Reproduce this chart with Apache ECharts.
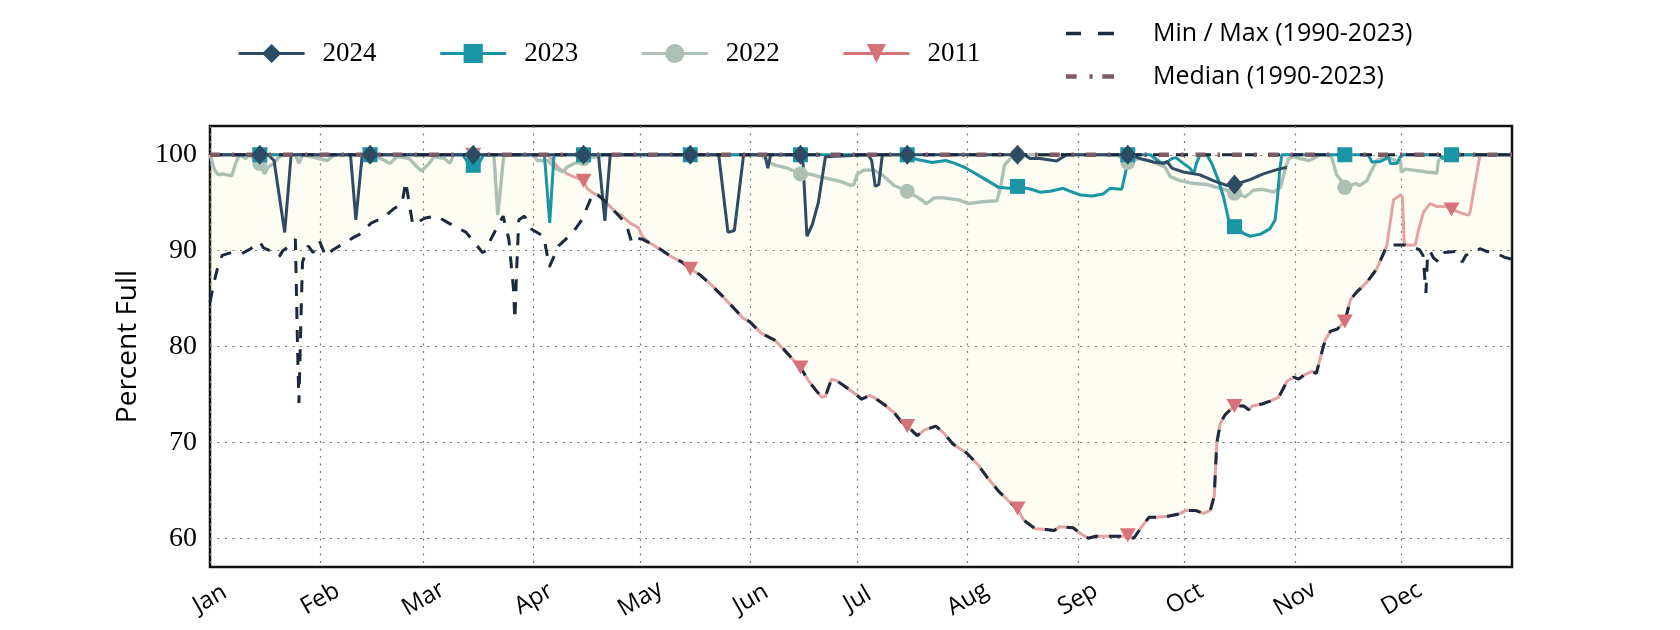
<!DOCTYPE html>
<html>
<head>
<meta charset="utf-8">
<script src="https://cdn.jsdelivr.net/npm/echarts@6/dist/echarts.min.js"></script>
<style>html,body{margin:0;padding:0;background:#fff}#c{width:1680px;height:630px}</style>
</head>
<body>
<div id="c"></div>
<script>
// ---- axis definitions ----
const monthLabels = ['Jan','Feb','Mar','Apr','May','Jun','Jul','Aug','Sep','Oct','Nov','Dec'];
const monthStarts = [0,31,60,91,121,152,182,213,244,274,305,335];
const yTicks = [60,70,80,90,100];

// ---- series values: [day of year, percent full] ----
const y2024 = [[0,100],[14,100],[16.3,100],[18,99.4],[21,91.9],[22.8,100],[39.5,100],[41,93.2],[42.8,100],[45,100],[74,100],[105,100],[109.2,100],[111,93.1],[112.5,100],[135,100],[143,100],[145.6,91.9],[147.4,92.1],[150,100],[156,100],[156.8,98.6],[157.6,100],[166,100],[166.6,99.8],[167.8,91.5],[169.3,92.7],[171,95],[173,99.8],[185,100],[186,99.4],[187,96.7],[188,96.9],[189,100],[196,100],[227,100],[229,100],[230.5,99.6],[233.3,99.6],[238,99.35],[240.8,100],[258.5,100],[261.5,99.6],[265.2,99.25],[268,99.1],[269,99.3],[270.4,98.6],[273.6,98.2],[278.3,97.9],[282,97.3],[285.8,96.8],[288,96.9],[292.4,97.4],[296.1,98],[299.9,98.45],[302.7,98.7]];

const y2023 = [[0,100],[71,100],[72.5,99.2],[74,98.9],[75.5,99.1],[77,100],[94,100],[95.5,92.9],[96.7,100],[196,100],[198.8,99.5],[203,99.2],[206.8,99.4],[209.4,99.1],[212.6,98.6],[215.8,97.9],[219,97.2],[221.7,96.6],[224.4,96.5],[227,96.7],[230.8,96.4],[233.3,96.1],[236.2,96.2],[239.8,96.5],[241.7,96.2],[244.7,95.8],[248,95.7],[251,95.9],[253,96.5],[256.3,96.4],[257.7,98.7],[258.5,100],[264.3,100],[267,99.25],[268.5,99.1],[270.4,99.6],[271.5,99.7],[273.6,99.1],[275.5,98.6],[276.5,98],[277.3,99.1],[278.3,100],[280.2,100],[281.6,99.1],[283.5,97.3],[284.9,95.6],[286.3,93.3],[288.6,92.5],[290.5,91.8],[292.4,91.5],[295.2,91.7],[298,92.3],[299.4,93.2],[300.1,95.6],[300.7,98.4],[301.3,100],[325.6,100],[326.6,99.25],[329,99.3],[330.6,99.6],[331,100],[331.8,99.1],[333.7,99.1],[334.6,99.8],[335.5,100],[345.5,100],[346.7,99.6],[348,100],[366,100]];

const y2022 = [[0,100],[1.3,98.4],[2.4,97.9],[3.4,98],[6.1,97.8],[7.2,99.1],[8.3,100],[10,99.6],[11,100],[13,99.4],[14.2,99.1],[15.3,98],[16.3,98.7],[18,99.1],[19.5,99.8],[21,100],[24,100],[25,99.1],[26,100],[33,99.4],[35,100],[45,100],[48,99.6],[50.6,99.1],[52.5,99.8],[56,99.6],[58,98.8],[59.5,98.3],[61.6,99.1],[63,99.8],[66,99.6],[67.4,99.1],[68.5,100],[79.8,100],[80.9,93.7],[82.6,100],[91,100],[92,99.4],[95,99.4],[97,98.6],[99.2,98.2],[100.3,98.7],[102.3,99.1],[104,99.2],[106,99.6],[109,99.8],[111,100],[155,100],[157,99.2],[159,98.9],[162.4,98.6],[166,98],[168.3,98],[171.5,97.7],[174,97.5],[177.4,97.2],[180,96.8],[181,96.9],[182,98],[183.8,98.4],[186.5,98.4],[189,97.9],[192.3,96.8],[196,96.2],[198.8,95.6],[201.4,94.9],[203.6,95.5],[206.2,95.5],[210.5,95.3],[213.2,94.9],[217,95.1],[221.2,95.2],[222.3,96.7],[223.3,98.9],[225.5,99.8],[227,100],[255,100],[258,99.2],[261,99.6],[264,99.4],[268.5,98.7],[270,97.7],[272.7,97.3],[276.5,97],[280.2,96.9],[283,96.6],[285.8,96.3],[288.8,96],[291,95.6],[293.3,96.3],[296,96.4],[299,96.1],[300.9,96.6],[302.2,98.4],[303.2,99.6],[304.6,99.8],[306.4,99.6],[309,99.4],[312,100],[315,100],[315.8,99.1],[316.7,97.9],[319.6,96.6],[321.9,97],[323.3,96.8],[325.2,97.3],[326.6,98.4],[328,99.4],[330.8,99.8],[333.2,99.4],[334.6,99.4],[334.9,98.2],[336,98.5],[338.3,98.4],[342,98.2],[344.9,98.1],[345.3,99.4],[346.7,99.8],[348,100],[366,100]];

const y2011 = [[0,100],[95,100],[98,98.6],[99.7,98.2],[101,97.9],[105,97.3],[106,96.5],[107.7,96],[109,95.8],[110,95.5],[112,94.8],[114,94],[115.6,93.7],[118,92.9],[120.4,92.4],[121.5,91.5],[123.6,90.8],[126.8,90.1],[129.5,89.4],[132.7,88.8],[135,88.1],[138,87.4],[141,86.4],[144.2,85.2],[148,83.7],[150,82.9],[151.7,82.6],[154.9,81.4],[158.6,80.7],[161.3,79.7],[163.5,78.8],[166,77.8],[168.3,76.4],[170.4,75.4],[172,74.7],[173,74.8],[174.7,76.6],[176.3,76.4],[179,75.7],[181.6,75],[183.2,74.5],[185.4,74.9],[187,74.6],[189.7,73.9],[192.3,73.1],[194.5,72.1],[196,71.7],[198.8,70.7],[200.9,71.3],[204,71.7],[206.2,71],[208.9,69.8],[212.7,68.9],[215.8,67.7],[219,66.1],[221.7,64.9],[225,63.7],[227,63.1],[228.7,61.9],[231.9,61],[235,60.9],[237.3,60.8],[238.9,61.2],[242.6,61.1],[244.7,60.5],[246.9,60],[249,60.2],[253.4,60.2],[256.5,60.2],[258,60.2],[259.7,60],[261.9,61.2],[264,62.2],[266,62.2],[269.3,62.3],[272,62.5],[274.5,62.9],[277,62.9],[279.3,62.6],[281.2,62.9],[282.3,64.4],[283,69.9],[284,72],[285.4,72.9],[286.8,73.4],[288,73.8],[290.6,73.8],[292,73.4],[293,73.8],[295.7,74],[298,74.3],[300.4,74.7],[302.8,76.4],[304.6,76.8],[306,76.6],[307.5,77],[309.8,77.4],[311,77.2],[312.1,78.8],[313.5,80.7],[315,81.6],[316.8,81.8],[319,82.6],[320.6,84.9],[322.4,85.7],[325.2,86.7],[328,88.1],[329.4,89.3],[330.8,90.5],[332.7,95.3],[334.6,95.8],[335.2,95.6],[335.7,90.6],[338.8,90.6],[339.7,92.1],[341.1,94],[343,94.9],[344.9,94.6],[347.7,94.6],[349,94.3],[351.9,93.9],[353.8,93.7],[354.2,94],[357,100],[366,100]];

const minRecord = [[0,84.6],[1,86.5],[2,88],[3.4,89.5],[6,89.8],[9,89.7],[11,90.1],[13,90.6],[14,90.9],[15,90.3],[18,89.8],[19.5,89.4],[20.5,90],[22.8,90.6],[24,91.2],[24.6,80],[25,74.1],[25.5,82],[26,88.8],[27.6,90.5],[29,89.8],[30.8,91],[32.5,89.4],[34.6,90.1],[37.8,90.8],[40,91.3],[42,91.7],[45.4,92.9],[48.6,93.4],[51.8,94.4],[54,94.9],[55,97.2],[57,92.7],[60.5,93.4],[63.7,93.6],[67,92.9],[69,92.5],[72,91.9],[74,91],[76.6,89.8],[77.6,90],[78.7,91],[80.8,92.5],[82.4,93.6],[84,91.2],[85.3,86],[85.7,82.8],[86.2,88],[86.8,93.2],[88.4,93.6],[90.5,92.2],[93.8,91.5],[95.4,88.3],[98,90.5],[102,91.9],[104.5,93.2],[107.7,96],[109,95.8],[110,95.5],[112,94.8],[114,94],[116,93.2],[117.3,92.4],[118.6,90.8],[120,91.3],[121.5,91.2],[123.6,90.8],[126.8,90.1],[129.5,89.4],[132.7,88.8],[135,88.1],[138,87.4],[141,86.4],[144.2,85.2],[148,83.7],[150,82.9],[151.7,82.6],[154.9,81.4],[158.6,80.7],[161.3,79.7],[163.5,78.8],[166,77.8],[168.3,76.4],[170.4,75.4],[172,74.7],[173,74.8],[174.7,76.6],[176.3,76.4],[179,75.7],[181.6,75],[183.2,74.5],[185.4,74.9],[187,74.6],[189.7,73.9],[192.3,73.1],[194.5,72.1],[196,71.7],[198.8,70.7],[200.9,71.3],[204,71.7],[206.2,71],[208.9,69.8],[212.7,68.9],[215.8,67.7],[219,66.1],[221.7,64.9],[225,63.7],[227,63.1],[228.7,61.9],[231.9,61],[235,60.9],[237.3,60.8],[238.9,61.2],[242.6,61.1],[244.7,60.5],[246.9,60],[249,60.2],[253.4,60.2],[256.5,60.2],[258,60.2],[259.7,60],[261.9,61.2],[264,62.2],[266,62.2],[269.3,62.3],[272,62.5],[274.5,62.9],[277,62.9],[279.3,62.6],[281.2,62.9],[282.3,64.4],[283,69.9],[284,72],[285.4,72.9],[286.8,73.4],[288,73.8],[290.6,73.8],[292,73.4],[293,73.8],[295.7,74],[298,74.3],[300.4,74.7],[302.8,76.4],[304.6,76.8],[306,76.6],[307.5,77],[309.8,77.4],[311,77.2],[312.1,78.8],[313.5,80.7],[315,81.6],[316.8,81.8],[319,82.6],[320.6,84.9],[322.4,85.7],[325.2,86.7],[328,88.1],[329.4,89.3],[330.8,90.5],[332.7,90.6],[336,90.6],[340,90.1],[341,89.5],[341.8,85.6],[342.3,89.8],[343,89.9],[344,89.2],[345.5,88.8],[347,89.8],[350,89.9],[351,89.6],[352,88.8],[353,89.5],[355,89.8],[357,90.2],[359,89.9],[361,89.8],[364,89.3],[366,89.1]];

const maxRecord = [[0,100],[366,100]];
const medianRecord = [[0,100],[366,100]];

// ---- marker values on the 15th of each month ----
const markerDays = [14,45,74,105,135,166,196,227,258,288,319,349];
const marks2024 = [100,100,100,100,100,100,100,100,100,96.9,null,null];
const marks2023 = [100,100,98.9,100,100,100,100,96.7,100,92.5,100,100];
const marks2022 = [99.1,100,100,99.6,100,98,96.2,100,99.2,96,96.6,100];
const marks2011 = [100,100,100,97.3,88.1,77.8,71.7,63.1,60.3,73.8,82.6,94.3];

// ---- styles ----
const C2024 = '#2d4b63', C2023 = '#1995a6', C2022 = '#adc0b5', C2011 = '#d6737a', C2011L = '#e3a3a1';
const CMIN = '#1b2a3e', CMED = '#7d5b64';
const SERIF = 'Liberation Serif', SANS = 'Open Sans';

function marks(vals) {
  return markerDays.map((d, i) => [d, vals[i]]).filter(p => p[1] != null);
}
function yearLine(name, data, color, lineColor, symbol, width, z, rot) {
  return {
    name, type: 'line', data, z, showSymbol: false, symbol, symbolRotate: rot || 0,
    itemStyle: { color }, lineStyle: { color: lineColor, width },
    silent: true, animation: false
  };
}
function markerSeries(id, vals, color, symbol, size, rot, z) {
  return {
    id, type: 'scatter', data: marks(vals), symbol, symbolSize: size, symbolRotate: rot || 0,
    itemStyle: { color, opacity: 1 }, z, silent: true, animation: false
  };
}

const chart = echarts.init(document.getElementById('c'), null, { renderer: 'canvas' });
chart.setOption({
  backgroundColor: '#ffffff',
  animation: false,
  grid: {
    left: 210, top: 126, width: 1302, height: 441,
    show: true, borderColor: '#111', borderWidth: 2.5, backgroundColor: 'transparent',
    containLabel: false, outerBoundsMode: 'none'
  },
  legend: [
    {
      data: ['2024', '2023', '2022', { name: '2011', lineStyle: { color: C2011 } }],
      left: 232, top: 35, orient: 'horizontal',
      itemWidth: 66, itemHeight: 24, itemGap: 62,
      lineStyle: { width: 3.2 },
      textStyle: { fontFamily: SERIF, fontSize: 27, color: '#000', padding: [0, 0, 0, 13] },
      selectedMode: false
    },
    {
      data: [
        { name: 'Min / Max (1990-2023)', icon: 'path://M0,0h15v3.4h-15z M32,0h16v3.4h-16z' },
        { name: 'Median (1990-2023)', icon: 'path://M0,0h10v4.4h-10z M22,0h3v4.4h-3z M34,0h11v4.4h-11z' }
      ],
      left: 1061, top: 13, orient: 'vertical',
      itemWidth: 48, itemHeight: 14, itemGap: 12,
      textStyle: { fontFamily: SANS, fontSize: 25, color: '#000', padding: [0, 0, 0, 34], lineHeight: 31 },
      selectedMode: false
    }
  ],
  xAxis: {
    type: 'value', min: 0, max: 366,
    axisLine: { show: false },
    axisTick: { show: false, customValues: monthStarts },
    splitLine: { show: true, lineStyle: { color: '#777', width: 1.2, type: [2, 5.5] } },
    axisLabel: {
      customValues: monthStarts,
      formatter: v => monthLabels[monthStarts.indexOf(v)] || '',
      rotate: 30, align: 'center', verticalAlign: 'middle', margin: 32,
      fontFamily: SANS, fontSize: 24, color: '#000'
    }
  },
  yAxis: {
    type: 'value', min: 57, max: 103,
    name: 'Percent Full', nameLocation: 'middle', nameGap: 68,
    nameTextStyle: { fontFamily: SANS, fontSize: 28, color: '#000' },
    axisLine: { show: false },
    axisTick: { show: false, customValues: yTicks },
    splitLine: { show: true, lineStyle: { color: '#777', width: 1.2, type: [2, 5.5] } },
    axisLabel: { customValues: yTicks, fontFamily: SERIF, fontSize: 28, color: '#000', margin: 13 }
  },
  series: [
    { id: 'band', type: 'line', data: minRecord, showSymbol: false, symbol: 'none',
      lineStyle: { width: 0, opacity: 0 }, areaStyle: { origin: 100, color: 'rgba(235,235,135,0.1)', opacity: 1 },
      z: 1, silent: true },
    yearLine('2011', y2011, C2011, C2011L, 'triangle', 3, 3, 180),
    yearLine('2022', y2022, C2022, C2022, 'circle', 3.4, 3),
    yearLine('2023', y2023, C2023, C2023, 'rect', 3, 3),
    yearLine('2024', y2024, C2024, C2024, 'diamond', 3, 3),
    { name: 'Min / Max (1990-2023)', type: 'line', data: minRecord, symbol: 'none', z: 4,
      itemStyle: { color: CMIN }, lineStyle: { color: CMIN, width: 3, type: [12, 11] }, silent: true },
    { name: 'Min / Max (1990-2023)', type: 'line', data: maxRecord, symbol: 'none', z: 4,
      itemStyle: { color: CMIN }, lineStyle: { color: CMIN, width: 3, type: [12, 11] }, silent: true },
    { name: 'Median (1990-2023)', type: 'line', data: medianRecord, symbol: 'none', z: 4,
      itemStyle: { color: CMED }, lineStyle: { color: CMED, width: 4.4, type: [10, 12, 2.5, 12] }, silent: true },
    markerSeries('m2011', marks2011, C2011, 'triangle', [16, 14], 180, 6),
    markerSeries('m2022', marks2022, C2022, 'circle', 15, 0, 7),
    markerSeries('m2023', marks2023, C2023, 'rect', 15, 0, 8),
    markerSeries('m2024', marks2024, C2024, 'diamond', [17, 20], 0, 9)
  ]
});
</script>
</body>
</html>
